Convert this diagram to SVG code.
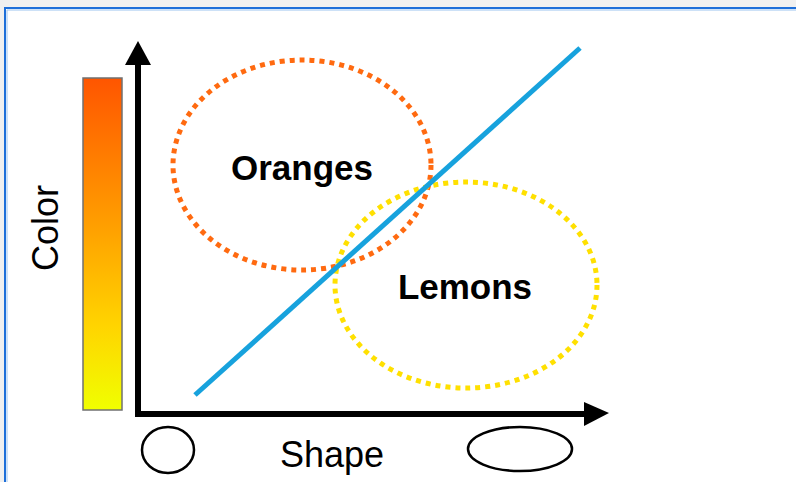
<svg xmlns="http://www.w3.org/2000/svg" width="796" height="482" viewBox="0 0 796 482">
  <style>
    .lbl { font-family: "Liberation Sans", Arial, sans-serif; fill: #000; }
    .bold { font-weight: bold; font-size: 35px; }
    .axis { stroke: #000; stroke-width: 6; fill: none; }
    .shape { fill: none; stroke: #000; stroke-width: 2.5; }
  </style>
  <defs>
    <linearGradient id="grad" x1="0" y1="0" x2="0" y2="1">
      <stop offset="0" stop-color="#FF5500"/>
      <stop offset="0.45" stop-color="#FFA000"/>
      <stop offset="0.75" stop-color="#FFD500"/>
      <stop offset="1" stop-color="#F0FF00"/>
    </linearGradient>
  </defs>
  <rect x="0" y="0" width="796" height="482" fill="#F0F0F0"/>
  <rect x="5" y="8" width="800" height="480" fill="#FFFFFF" stroke="#1E6FD9" stroke-width="2"/>
  <path d="M7 482 V10 H796" fill="none" stroke="#9CC4F0" stroke-width="1"/>

  <g id="colorbar">
    <rect x="83" y="78" width="39" height="332" fill="url(#grad)" stroke="#707070" stroke-width="1.5"/>
    <text class="lbl" font-size="36" transform="translate(58,228) rotate(-90)" text-anchor="middle">Color</text>
  </g>

  <g id="oranges">
    <ellipse cx="302" cy="165" rx="129" ry="105" fill="none" stroke="#FF6A10" stroke-width="5" stroke-dasharray="5 5"/>
    <text class="lbl bold" x="302" y="180" text-anchor="middle">Oranges</text>
  </g>

  <g id="lemons">
    <ellipse cx="466" cy="285" rx="131" ry="103" fill="none" stroke="#FFE000" stroke-width="5" stroke-dasharray="5 5"/>
    <text class="lbl bold" x="465" y="299" text-anchor="middle">Lemons</text>
  </g>

  <g id="connectors">
    <line x1="195" y1="395" x2="580" y2="48" stroke="#17A2DD" stroke-width="5"/>
    <path class="axis" d="M138 62 V414 H586"/>
    <polygon points="138,41 125,65 151,65" fill="#000"/>
    <polygon points="609,413 584,402 584,426" fill="#000"/>
  </g>

  <g id="shape-axis">
    <ellipse class="shape" cx="168" cy="450" rx="26" ry="23"/>
    <ellipse class="shape" cx="520" cy="449" rx="52" ry="22"/>
    <text class="lbl" font-size="36" x="332" y="467" text-anchor="middle">Shape</text>
  </g>
</svg>
